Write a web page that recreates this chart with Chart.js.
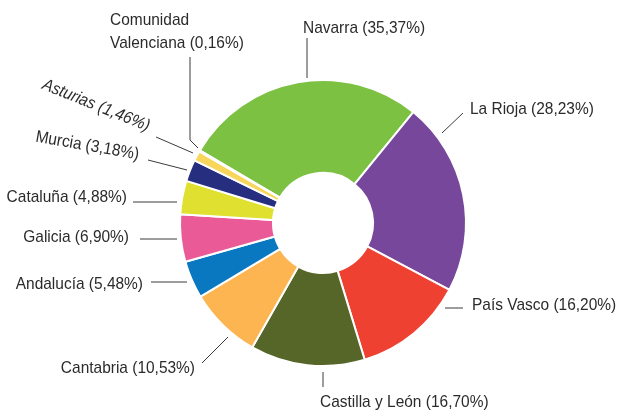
<!DOCTYPE html>
<html>
<head>
<meta charset="utf-8">
<script src="https://cdn.jsdelivr.net/npm/chart.js@4"></script>
<style>
    html, body { margin: 0; padding: 0; background: #fff; }
    #wrap { width: 617px; height: 412px; }
</style>
</head>
<body>
<div id="wrap"><canvas id="regiones-chart"></canvas></div>
<script>
const regiones = [
    "Navarra", "La Rioja", "País Vasco", "Castilla y León", "Cantabria",
    "Andalucía", "Galicia", "Cataluña", "Murcia", "Asturias", "Comunidad Valenciana"
]
const porcentajes = [35.37, 28.23, 16.20, 16.70, 10.53, 5.48, 6.90, 4.88, 3.18, 1.46, 0.16]
const colores = [
    '#7dc142', // verde
    '#77479c', // morado
    '#ee4132', // rojo
    '#566628', // oliva
    '#fdb552', // naranja
    '#0a78c0', // azul
    '#ea5a97', // rosa
    '#dfe030', // amarillo
    '#262f7f', // azul oscuro
    '#f8d65c', // amarillo claro
    '#f3ecc4'  // crema
]

// posicion de cada etiqueta respecto al centro del anillo (px)
const etiquetas = [
    { line: [[-16, -145], [-16, -185]], at: [-20, -195], align: 'left' },
    { line: [[119, -90], [140, -110]], at: [147, -114], align: 'left' },
    { line: [[122, 85], [140, 85]], at: [149, 82], align: 'left' },
    { line: [[0, 149], [0, 164]], at: [-3, 179], align: 'left' },
    { line: [[-95, 114], [-121, 140]], at: [-128, 145], align: 'right' },
    { line: [[-136, 59], [-172, 59]], at: [-180, 61], align: 'right' },
    { line: [[-146, 16], [-183, 16]], at: [-194, 14], align: 'right' },
    { line: [[-146, -21], [-190, -21]], at: [-196, -26], align: 'right' },
    { line: [[-136, -53], [-175, -63]], at: [-184, -68], align: 'right', rot: 10 },
    { line: [[-130, -70], [-167, -86]], at: [-174, -96], align: 'right', rot: 22, italic: true },
    { line: [[-125, -75], [-133, -83], [-133, -166]], at: [-213, -203], align: 'left', split: true }
]

const fuente = "'Liberation Sans', Arial, sans-serif"

const etiquetasPlugin = {
    id: 'etiquetas',
    afterDatasetsDraw(chart) {
        const ctx = chart.ctx
        const arc = chart.getDatasetMeta(0).data[0]
        const cx = arc.x, cy = arc.y
        ctx.save()
        ctx.strokeStyle = '#3a3a3a'
        ctx.lineWidth = 1
        ctx.fillStyle = '#2b2b2b'
        ctx.textBaseline = 'middle'
        chart.data.labels.forEach((name, i) => {
            const e = etiquetas[i]
            const value = chart.data.datasets[0].data[i]
            const pct = '(' + value.toFixed(2).replace('.', ',') + '%)'
            ctx.beginPath()
            e.line.forEach(([dx, dy], k) => {
                if (k === 0) ctx.moveTo(cx + dx, cy + dy)
                else ctx.lineTo(cx + dx, cy + dy)
            })
            ctx.stroke()

            ctx.font = (e.italic ? 'italic ' : '') + '17px ' + fuente
            ctx.textAlign = e.align
            ctx.save()
            ctx.translate(cx + e.at[0], cy + e.at[1])
            if (e.rot) ctx.rotate(e.rot * Math.PI / 180)
            ctx.scale(0.91, 1)  // letra estrecha
            if (e.split) {
                const parts = name.split(' ')
                ctx.fillText(parts[0], 0, 0)
                ctx.fillText(parts.slice(1).join(' ') + ' ' + pct, 0, 23)
            } else {
                ctx.fillText(name + ' ' + pct, 0, 0)
            }
            ctx.restore()
        })
        ctx.restore()
    }
}

new Chart(document.getElementById('regiones-chart'), {
    type: 'doughnut',
    data: {
        labels: regiones,
        datasets: [{
            data: porcentajes,
            backgroundColor: colores,
            borderColor: '#ffffff',
            borderWidth: 2
        }]
    },
    options: {
        responsive: true,
        maintainAspectRatio: false,
        animation: false,
        events: [],
        rotation: -59.5,
        cutout: '35%',
        layout: {
            padding: { top: 79, bottom: 45, left: 150, right: 121 }
        },
        plugins: {
            legend: { display: false },
            tooltip: { enabled: false }
        }
    },
    plugins: [etiquetasPlugin]
});
</script>
</body>
</html>
